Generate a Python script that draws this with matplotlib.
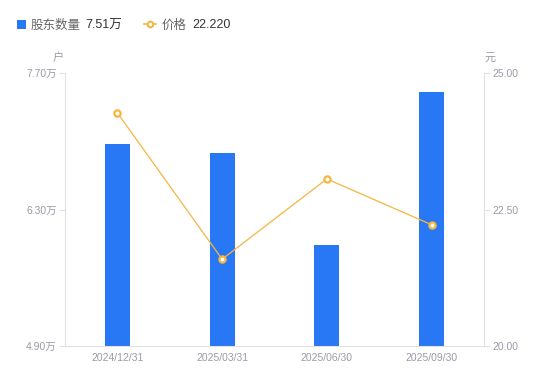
import matplotlib
matplotlib.use("Agg")
import matplotlib.pyplot as plt
from matplotlib.lines import Line2D
from matplotlib.patches import Rectangle

plt.rcParams['font.family'] = ['Liberation Sans', 'Noto Sans CJK SC', 'DejaVu Sans']

categories = ["2024/12/31", "2025/03/31", "2025/06/30", "2025/09/30"]
holders = [6.97, 6.88, 5.94, 7.51]   # 万户
price = [24.27, 21.59, 23.06, 22.22]  # 元
left_ticks = [4.90, 6.30, 7.70]
right_ticks = [20.00, 22.50, 25.00]

BLUE = "#2878f5"
ORANGE = "#f5b540"
GRAY = "#9a9aa8"
AXIS = "#e0e0e6"
DARK = "#333333"

fig = plt.figure(figsize=(5.5, 3.81), dpi=100)
ax = fig.add_axes([65/550, 1-346/381, (484-65)/550, (346-73)/381])
ax2 = ax.twinx()

x = list(range(len(categories)))
ax.bar(x, holders, width=25/104.75, color=BLUE, zorder=2)
ax.set_xlim(-0.5, len(categories)-0.5)
ax.set_ylim(left_ticks[0], left_ticks[-1])
ax.set_yticks(left_ticks)
ax.set_yticklabels([f"{v:.2f}万" for v in left_ticks])
ax.set_xticks(x)
ax.set_xticklabels(categories)

ax2.plot(x, price, color=ORANGE, lw=0.9, marker='o', ms=4.5,
         mfc='white', mec=ORANGE, mew=1.6, zorder=3)
ax2.set_ylim(right_ticks[0], right_ticks[-1])
ax2.set_yticks(right_ticks)
ax2.set_yticklabels([f"{v:.2f}" for v in right_ticks])

for a in (ax, ax2):
    for s in a.spines.values():
        s.set_visible(False)
ax.spines['left'].set_visible(True)
ax.spines['left'].set_color(AXIS)
ax.spines['bottom'].set_visible(True)
ax.spines['bottom'].set_color(AXIS)
ax2.spines['right'].set_visible(True)
ax2.spines['right'].set_color(AXIS)

ax.tick_params(axis='y', colors=AXIS, labelcolor=GRAY, labelsize=7.5, length=4, width=0.8, pad=2)
ax.tick_params(axis='x', length=0, labelcolor=GRAY, labelsize=7.5, pad=5)
ax2.tick_params(axis='y', colors=AXIS, labelcolor=GRAY, labelsize=7.5, length=4, width=0.8, pad=2)

fig.text(58/550, 1-58/381, "户", color=GRAY, fontsize=8, ha='center', va='center')
fig.text(490/550, 1-58/381, "元", color=GRAY, fontsize=8, ha='center', va='center')

# Legend
fig.patches.append(Rectangle((17/550, 1-29/381), 9/550, 9/381, transform=fig.transFigure,
                             facecolor=BLUE, edgecolor='none'))
fig.text(31/550, 1-25.5/381, "股东数量", color="#666666", fontsize=9, va='center')
fig.text(85/550, 1-25.5/381, "7.51万", color=DARK, fontsize=9, va='center')
fig.lines.append(Line2D([144/550, 156/550], [1-24/381, 1-24/381], transform=fig.transFigure,
                        color=ORANGE, lw=1.2))
fig.lines.append(Line2D([150/550], [1-24/381], transform=fig.transFigure, marker='o', ms=4,
                        mfc='white', mec=ORANGE, mew=1.5))
fig.text(162/550, 1-25.5/381, "价格", color="#666666", fontsize=9, va='center')
fig.text(192/550, 1-25.5/381, "22.220", color=DARK, fontsize=9, va='center')

fig.savefig("out.png", dpi=100)
